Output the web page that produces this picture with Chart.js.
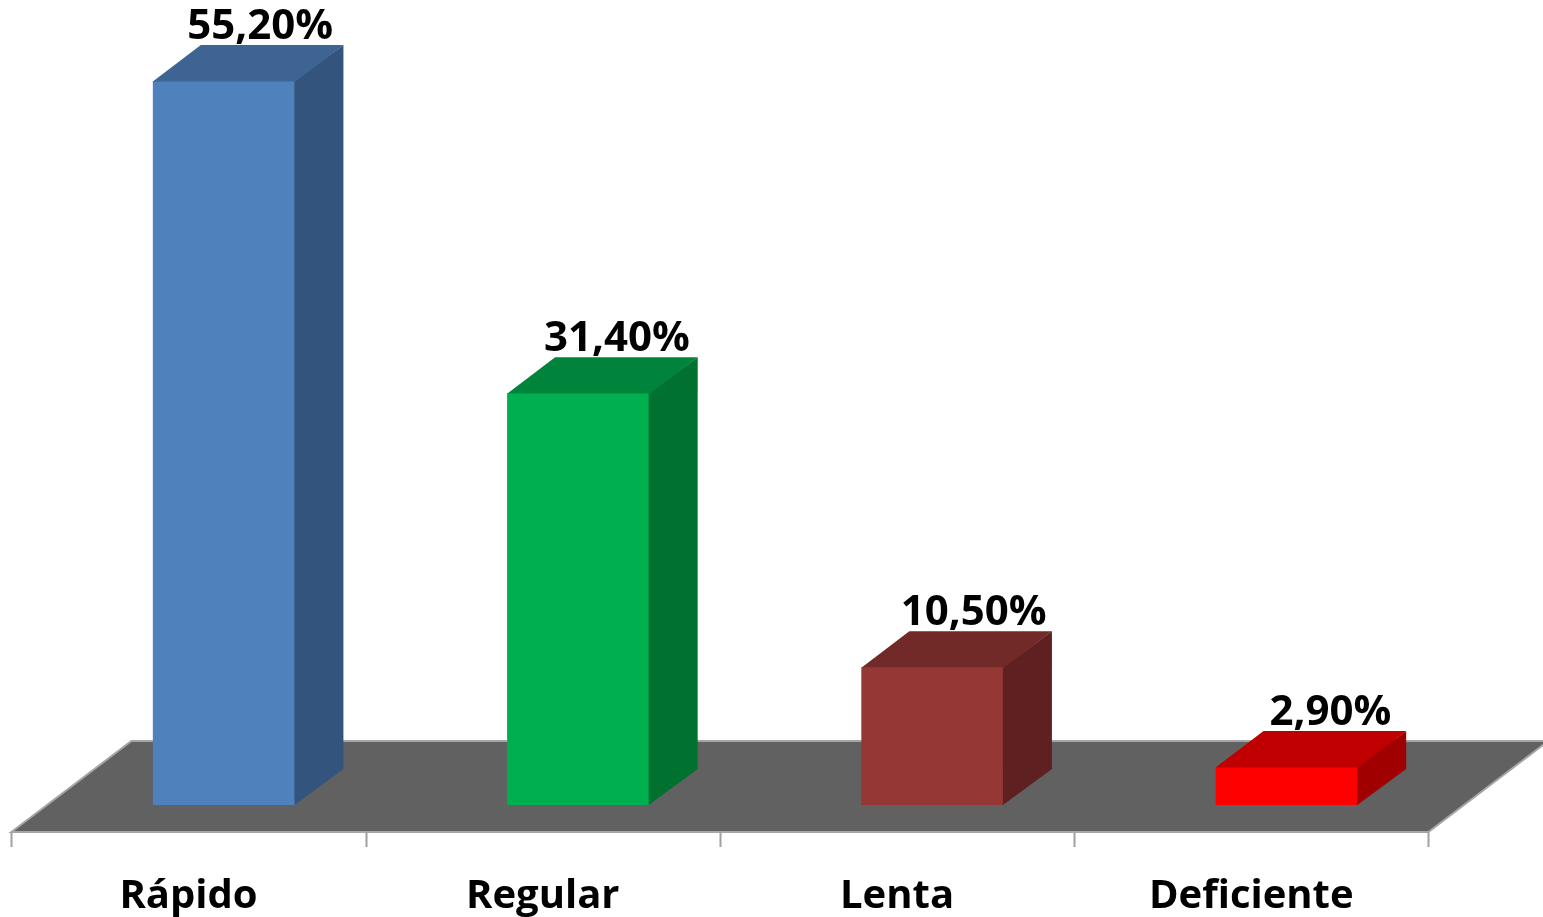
<!DOCTYPE html>
<html>
<head>
<meta charset="utf-8">
<script src="https://cdn.jsdelivr.net/npm/chart.js@4"></script>
<style>
    html, body { margin: 0; padding: 0; background: #ffffff; }
    #chart_box { width: 1543px; height: 917px; }
</style>
</head>
<body>
<div id="chart_box"><canvas id="chart_bar"></canvas></div>
<script>
const canvasChartBar = document.getElementById('chart_bar');

/* DATA */
const CATEGORIES = ['Rápido', 'Regular', 'Lenta', 'Deficiente'];
const VALUES = [55.2, 31.4, 10.5, 2.9];
const Y_MAX = 60;

/* COLORS (front / top / side) */
const FRONT_COLORS = ['#4F81BD', '#00B050', '#953735', '#FF0000'];
const TOP_COLORS = ['#3E6494', '#00843C', '#722A29', '#C00000'];
const SIDE_COLORS = ['#33547C', '#00712F', '#5E2020', '#A00000'];

/* 3D geometry, in px */
const DEPTH_X = 48;       // bar depth
const DEPTH_Y = 36;
const FLOOR_DX = 120;     // full floor depth
const FLOOR_DY = 91;
const FRONT_SHIFT_X = 35.6; // floor front edge is this far left/below the bars
const FRONT_SHIFT_Y = 27;

const VALUE_FONT = 'bold 42px "Open Sans", "Liberation Sans", sans-serif';
const CAT_FONT = 'bold 40px "Open Sans", "Liberation Sans", sans-serif';

function fmt(v) {
    return v.toFixed(2).replace('.', ',') + '%';
}

function poly(ctx, pts, fill) {
    ctx.beginPath();
    ctx.moveTo(pts[0][0], pts[0][1]);
    for (let i = 1; i < pts.length; i++) ctx.lineTo(pts[i][0], pts[i][1]);
    ctx.closePath();
    ctx.fillStyle = fill;
    ctx.fill();
}

const floorAndFaces = {
    id: 'floorAndFaces',
    beforeDatasetsDraw(chart) {
        const ctx = chart.ctx;
        const area = chart.chartArea;
        const xs = chart.scales.x;
        const fy = area.bottom + FRONT_SHIFT_Y;
        const fl = area.left - FRONT_SHIFT_X;
        const fr = area.right - FRONT_SHIFT_X;
        const pts = [[fl, fy], [fr, fy], [fr + FLOOR_DX, fy - FLOOR_DY], [fl + FLOOR_DX, fy - FLOOR_DY]];
        ctx.save();
        poly(ctx, pts, '#616161');
        ctx.strokeStyle = '#A6A6A6';
        ctx.lineWidth = 2;
        ctx.stroke();

        // tick marks along the front edge
        const catW = (area.right - area.left) / CATEGORIES.length;
        ctx.beginPath();
        for (let i = 0; i <= CATEGORIES.length; i++) {
            const tx = Math.round(fl + i * catW) + 0.5;
            ctx.moveTo(tx, fy);
            ctx.lineTo(tx, fy + 15);
        }
        ctx.strokeStyle = '#A0A0A0';
        ctx.lineWidth = 2;
        ctx.stroke();

        // category labels
        ctx.font = CAT_FONT;
        ctx.fillStyle = '#000000';
        ctx.textAlign = 'center';
        ctx.textBaseline = 'alphabetic';
        CATEGORIES.forEach((c, i) => {
            ctx.fillText(c, xs.getPixelForValue(i) - FRONT_SHIFT_X, 908);
        });
        ctx.restore();
    },
    afterDatasetsDraw(chart) {
        const ctx = chart.ctx;
        const meta = chart.getDatasetMeta(0);
        ctx.save();
        meta.data.forEach((bar, i) => {
            const p = bar.getProps(['x', 'y', 'base', 'width'], true);
            const l = p.x - p.width / 2;
            const r = p.x + p.width / 2;
            // side face (starts a hair inside the front face to hide the seam)
            poly(ctx, [[r - 1, p.y], [r + DEPTH_X, p.y - DEPTH_Y], [r + DEPTH_X, p.base - DEPTH_Y], [r - 1, p.base]], SIDE_COLORS[i]);
            // top face
            poly(ctx, [[l, p.y + 0.5], [r, p.y + 0.5], [r + DEPTH_X, p.y - DEPTH_Y], [l + DEPTH_X, p.y - DEPTH_Y]], TOP_COLORS[i]);
            // value label
            ctx.font = VALUE_FONT;
            ctx.fillStyle = '#000000';
            ctx.textAlign = 'center';
            ctx.textBaseline = 'alphabetic';
            ctx.fillText(fmt(VALUES[i]), p.x + 36 + i * 2.5, p.y - DEPTH_Y - 6);
        });
        ctx.restore();
    }
};

/* Bar Chart */
var chartBar = new Chart(canvasChartBar, {
    type: 'bar',
    data: {
        labels: CATEGORIES,
        datasets: [{
            data: VALUES,
            backgroundColor: FRONT_COLORS,
            borderWidth: 0,
            categoryPercentage: 1,
            barPercentage: 0.4025
        }]
    },
    options: {
        responsive: true,
        maintainAspectRatio: false,
        animation: false,
        layout: { padding: { left: 47, right: 79, top: 18, bottom: 112 } },
        plugins: {
            legend: { display: false },
            tooltip: { enabled: false }
        },
        scales: {
            x: { display: false },
            y: { display: false, min: 0, max: Y_MAX }
        }
    },
    plugins: [floorAndFaces]
});
</script>
</body>
</html>
